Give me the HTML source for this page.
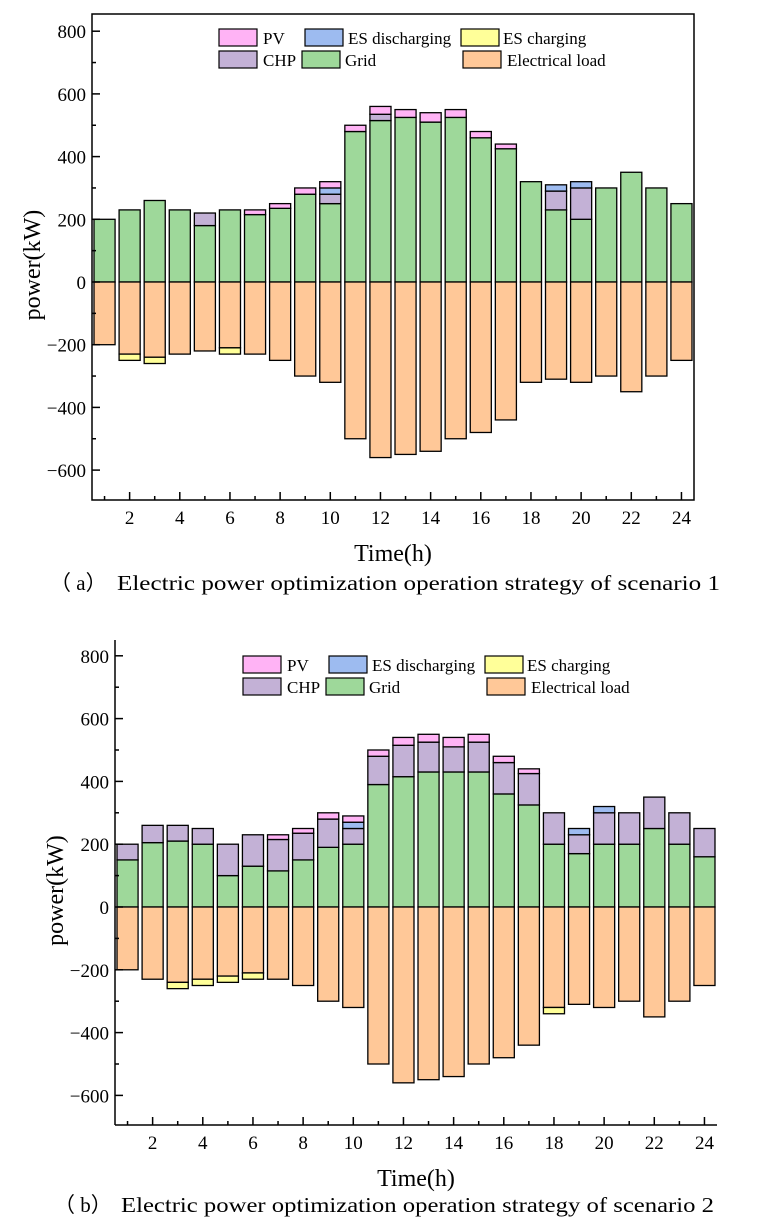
<!DOCTYPE html>
<html><head><meta charset="utf-8"><style>
body{margin:0;background:#fff;width:757px;height:1227px;overflow:hidden}
svg text{font-family:"Liberation Serif",serif;fill:#000}
</style></head><body>
<svg id="s" width="757" height="1227"></svg>
<script>
const hours=[1,2,3,4,5,6,7,8,9,10,11,12,13,14,15,16,17,18,19,20,21,22,23,24];
const yTicks=[-600,-400,-200,0,200,400,600,800];
const xTicks=[2,4,6,8,10,12,14,16,18,20,22,24];
// Scenario 1
const grid1=[200,230,260,230,180,230,215,235,280,250,480,515,525,510,525,460,425,320,230,200,300,350,300,250];
const chp1=[0,0,0,0,40,0,0,0,0,30,0,20,0,0,0,0,0,0,60,100,0,0,0,0];
const esd1=[0,0,0,0,0,0,0,0,0,20,0,0,0,0,0,0,0,0,20,20,0,0,0,0];
const pv1=[0,0,0,0,0,0,15,15,20,20,20,25,25,30,25,20,15,0,0,0,0,0,0,0];
const load1=[200,230,240,230,220,210,230,250,300,320,500,560,550,540,500,480,440,320,310,320,300,350,300,250];
const esc1=[0,20,20,0,0,20,0,0,0,0,0,0,0,0,0,0,0,0,0,0,0,0,0,0];
// Scenario 2
const grid2=[150,205,210,200,100,130,115,150,190,200,390,415,430,430,430,360,325,200,170,200,200,250,200,160];
const chp2=[50,55,50,50,100,100,100,85,90,50,90,100,95,80,95,100,100,100,60,100,100,100,100,90];
const esd2=[0,0,0,0,0,0,0,0,0,20,0,0,0,0,0,0,0,0,20,20,0,0,0,0];
const pv2=[0,0,0,0,0,0,15,15,20,20,20,25,25,30,25,20,15,0,0,0,0,0,0,0];
const load2=[200,230,240,230,220,210,230,250,300,320,500,560,550,540,500,480,440,320,310,320,300,350,300,250];
const esc2=[0,0,20,20,20,20,0,0,0,0,0,0,0,0,0,0,0,20,0,0,0,0,0,0];

const C={pv:'#ffb3f5',esd:'#9dbbf0',esc:'#ffff99',chp:'#c3b1d6',grid:'#9ed89a',load:'#ffc898'};
const NS='http://www.w3.org/2000/svg';
const svg=document.getElementById('s');
function mk(tag,at,parent){const e=document.createElementNS(NS,tag);for(const k in at)e.setAttribute(k,at[k]);(parent||svg).appendChild(e);return e;}

function chart(o){
  const g=mk('g',{});
  
  
  const xs=h=>o.L+(h-0.5)*(o.R-o.L)/24;
  const ys=v=>o.zero-v*o.k;
  const bw=(o.R-o.L)/24*0.84;
  function bar(h,v0,v1,col,nm){
    if(v1===v0)return;
    const r=mk('rect',{x:xs(h)-bw/2,y:Math.min(ys(v0),ys(v1)),width:bw,height:Math.abs(ys(v1)-ys(v0)),fill:col,stroke:'#000','stroke-width':1.3},g);
    
    
  }
  hours.forEach((h,i)=>{
    let b=0;
    bar(h,b,b+o.grid[i],C.grid,'grid');b+=o.grid[i];
    bar(h,b,b+o.chp[i],C.chp,'chp');b+=o.chp[i];
    bar(h,b,b+o.esd[i],C.esd,'es-discharging');b+=o.esd[i];
    bar(h,b,b+o.pv[i],C.pv,'pv');b+=o.pv[i];
    bar(h,0,-o.load[i],C.load,'load');
    bar(h,-o.load[i],-o.load[i]-o.esc[i],C.esc,'es-charging');
  });
  const ax=mk('g',{stroke:'#000','stroke-width':1.5,fill:'none'},g);
  
  
  if(o.frame) mk('rect',{x:o.L,y:o.T,width:o.R-o.L,height:o.B-o.T},ax);
  else{mk('line',{x1:o.L,y1:o.T,x2:o.L,y2:o.B},ax);mk('line',{x1:o.L,y1:o.B,x2:o.R,y2:o.B},ax);}
  for(let v=-600;v<=800;v+=100){
    const y=ys(v);if(y<o.T||y>o.B)continue;
    mk('line',{x1:o.L,y1:y,x2:o.L+(v%200===0?8:4),y2:y},ax);
  }
  yTicks.forEach(v=>{
    const t=mk('text',{x:o.L-6,y:ys(v)+7,'text-anchor':'end','font-size':19},g);
    t.textContent=v<0?'\u2212'+(-v):v;
    
    
  });
  hours.forEach(h=>{mk('line',{x1:xs(h),y1:o.B,x2:xs(h),y2:o.B-(h%2===0?8:4)},ax);});
  xTicks.forEach(h=>{
    const t=mk('text',{x:xs(h),y:o.B+24,'text-anchor':'middle','font-size':19},g);
    t.textContent=h;
    
    
  });
  const yt=mk('text',{x:0,y:0,'text-anchor':'middle','font-size':24,transform:`translate(${o.L-52},${(o.T+o.B)/2+8}) rotate(-90)`},g);
  yt.textContent='power(kW)';
  
  
  const xt=mk('text',{x:(o.L+o.R)/2,y:o.B+61,'text-anchor':'middle','font-size':24},g);
  xt.textContent='Time(h)';
  
  
  const cp=mk('text',{x:o.capX,y:o.capY,'font-size':21},g);
  cp.textContent=o.capP;
  
  
  const cap=mk('text',{x:o.capX+67,y:o.capY,'font-size':21,textLength:o.capW,lengthAdjust:'spacingAndGlyphs'},g);
  cap.textContent=o.cap;
  
  
  const lg=mk('g',{},g);
  
  
  const ents=[['PV',C.pv,0,0,44],['ES discharging',C.esd,86,0,129],['ES charging',C.esc,242,0,284],['CHP',C.chp,0,22,44],['Grid',C.grid,83,22,126],['Electrical load',C.load,244,22,288]];
  ents.forEach(e=>{
    const it=mk('g',{},lg);
    
    
    mk('rect',{x:o.lx+e[2],y:o.ly+e[3],width:38,height:17,fill:e[1],stroke:'#000','stroke-width':1.2},it);
    const t=mk('text',{x:o.lx+e[4],y:o.ly+e[3]+15,'font-size':17},it);
    t.textContent=e[0];
  });
}
chart({name:'chart-scenario-1',L:92,R:694,T:14,B:500,zero:282,k:0.3135,frame:true,
  grid:grid1,chp:chp1,esd:esd1,pv:pv1,load:load1,esc:esc1,lx:219,ly:29,
  capP:'（ a）',cap:'Electric power optimization operation strategy of scenario 1',capW:603,capX:50,capY:590});
chart({name:'chart-scenario-2',L:115,R:717,T:640,B:1125,zero:907,k:0.314,frame:false,
  grid:grid2,chp:chp2,esd:esd2,pv:pv2,load:load2,esc:esc2,lx:243,ly:656,
  capP:'（ b）',cap:'Electric power optimization operation strategy of scenario 2',capW:593,capX:54,capY:1212});
</script>
</body></html>
